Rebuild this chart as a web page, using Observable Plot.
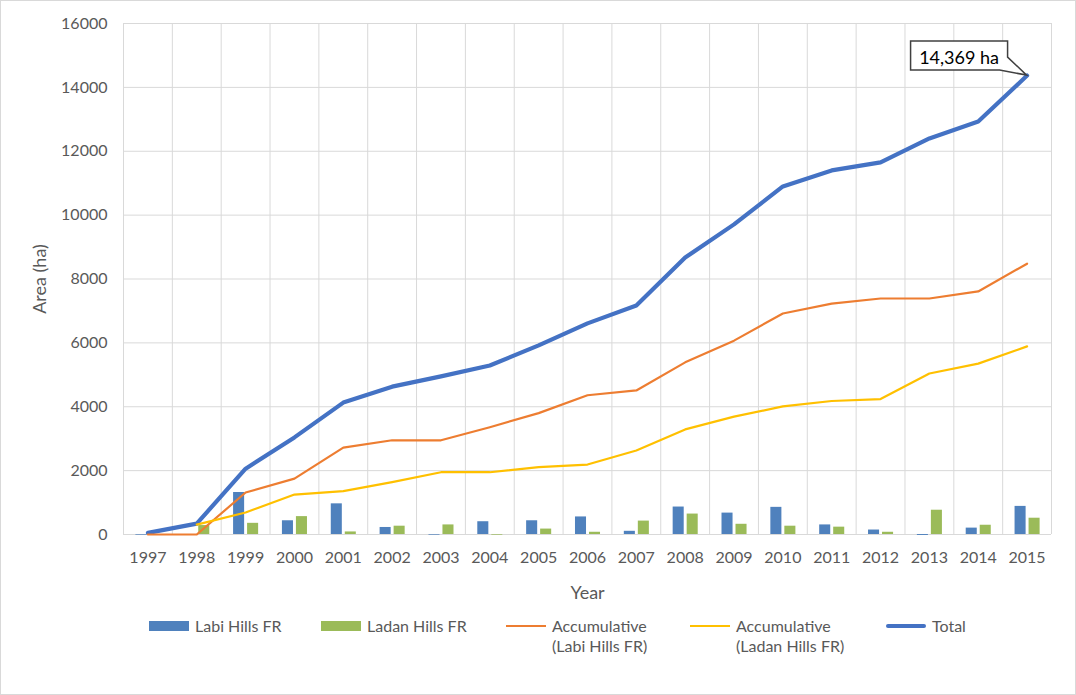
<!DOCTYPE html>
<html>
<head>
<meta charset="utf-8">
<script src="https://cdn.jsdelivr.net/npm/d3@7"></script>
<script src="https://cdn.jsdelivr.net/npm/@observablehq/plot@0.6"></script>
<style>
  html, body { margin: 0; padding: 0; background: #fff; }
  #wrap { position: relative; width: 1076px; height: 695px; overflow: hidden; background: #fff; font-family: Lato, sans-serif; }
  #frame { position: absolute; left: 0; top: 0; width: 1076px; height: 695px; box-sizing: border-box; border: 1px solid #d9d9d9; pointer-events: none; }
  #chart { position: absolute; left: 0; top: 0; }
  #chart g[aria-label="y-axis label"] text, #chart g[aria-label="x-axis label"] text { font-size: 18px; }
  .leg { position: absolute; font-size: 16px; color: #595959; line-height: 20px; white-space: nowrap; }
  .sw { position: absolute; }
</style>
</head>
<body>
<div id="wrap">
  <div id="chart"></div>
  <div id="legend"></div>
  <div id="frame"></div>
</div>
<script>
// ---- data ----
const years = [1997, 1998, 1999, 2000, 2001, 2002, 2003, 2004, 2005, 2006, 2007, 2008, 2009, 2010, 2011, 2012, 2013, 2014, 2015];
const labiAnnual  = [-20, 0, 1315, 430, 960, 220, -20, 400, 430, 550, 100, 860, 670, 850, 300, 140, -30, 200, 880];
const ladanAnnual = [0, 280, 350, 560, 80, 260, 300, -20, 170, 70, 420, 640, 320, 260, 230, 70, 760, 290, 510];
const accLabi  = [0, 0, 1315, 1750, 2720, 2950, 2950, 3360, 3800, 4360, 4510, 5390, 6070, 6920, 7230, 7390, 7390, 7610, 8480];
const accLadan = [null, 310, 690, 1250, 1360, 1640, 1950, 1950, 2110, 2190, 2630, 3290, 3690, 4010, 4180, 4240, 5040, 5350, 5890];
const total    = [50, 340, 2060, 3040, 4130, 4630, 4950, 5290, 5920, 6610, 7170, 8670, 9710, 10900, 11400, 11650, 12400, 12930, 14369];
const yTicks = [0, 2000, 4000, 6000, 8000, 10000, 12000, 14000, 16000];
const seriesNames = ["Labi Hills FR", "Ladan Hills FR", "Accumulative\n(Labi Hills FR)", "Accumulative\n(Ladan Hills FR)", "Total"];
const colors = ["#4F81BD", "#9BBB59", "#ED7D31", "#FFC000", "#4472C4"];

const rows = years.map((year, i) => ({
  year, labi: labiAnnual[i], ladan: ladanAnnual[i],
  accLabi: accLabi[i], accLadan: accLadan[i], total: total[i]
}));
const boundaries = years.map(y => y - 0.5).concat([years[years.length - 1] + 0.5]);

const W = 1076, H = 600;
const mL = 123, mR = 25, mT = 23, mB = 66;

const chart = Plot.plot({
  width: W, height: H,
  marginLeft: mL, marginRight: mR, marginTop: mT, marginBottom: mB,
  style: { fontFamily: "Lato, sans-serif", fontSize: "16px", color: "#595959", background: "transparent", overflow: "visible" },
  x: { type: "linear", domain: [years[0] - 0.5, years[years.length - 1] + 0.5] },
  y: { domain: [0, 16000] },
  marks: [
    Plot.ruleY(yTicks, { stroke: "#d9d9d9", strokeWidth: 1 }),
    Plot.ruleX(boundaries, { stroke: "#d9d9d9", strokeWidth: 1 }),
    Plot.rectY(rows, { x1: d => d.year - 0.5, x2: d => d.year + 0.5, y: "labi", fill: colors[0], insetLeft: 12.4, insetRight: 25.4 }),
    Plot.rectY(rows, { x1: d => d.year - 0.5, x2: d => d.year + 0.5, y: "ladan", fill: colors[1], insetLeft: 26.4, insetRight: 11.4 }),
    Plot.lineY(rows, { x: "year", y: "total", stroke: colors[4], strokeWidth: 4.2, strokeLinejoin: "round", strokeLinecap: "round" }),
    Plot.lineY(rows, { x: "year", y: "accLabi", stroke: colors[2], strokeWidth: 2.2, strokeLinejoin: "round" }),
    Plot.lineY(rows, { x: "year", y: "accLadan", stroke: colors[3], strokeWidth: 2.2, strokeLinejoin: "round" }),
    Plot.axisY({ ticks: yTicks, tickSize: 0, tickPadding: 16, tickFormat: d => String(d), label: "Area (ha)", labelAnchor: "center", labelArrow: "none", labelOffset: 90 }),
    Plot.axisX({ ticks: years, tickSize: 0, tickPadding: 17, tickFormat: d => String(d), label: "Year", labelAnchor: "center", labelArrow: "none", labelOffset: 64 })
  ]
});
document.getElementById("chart").appendChild(chart);

// ---- callout on the last total value ----
(function () {
  const last = rows[rows.length - 1];
  let sx, sy;
  try { sx = chart.scale("x").apply(last.year); sy = chart.scale("y").apply(last.total); } catch (e) {}
  if (!isFinite(sx) || !isFinite(sy)) {
    sx = d3.scaleLinear([years[0] - 0.5, years[years.length - 1] + 0.5], [mL, W - mR])(last.year);
    sy = d3.scaleLinear([0, 16000], [H - mB, mT])(last.total);
  }
  const svg = d3.select(chart);
  const g = svg.append("g").attr("aria-label", "callout");
  const x0 = sx - 116, x1 = sx - 19, y0 = sy - 34, y1 = sy - 5;
  g.append("path")
    .attr("d", `M${x0},${y0}H${x1}V${y0 + 16}L${sx},${sy}L${x1 - 8},${y1}H${x0}Z`)
    .attr("fill", "#fff").attr("stroke", "#404040").attr("stroke-width", 1.5);
  g.append("text")
    .attr("x", (x0 + x1) / 2).attr("y", (y0 + y1) / 2 + 1)
    .attr("text-anchor", "middle").attr("dominant-baseline", "central")
    .attr("font-family", "Lato, sans-serif").attr("font-size", 18).attr("fill", "#000")
    .text(d3.format(",")(last.total) + " ha");
})();

// ---- legend below the plot ----
(function () {
  const legend = document.getElementById("legend");
  const items = [
    { left: 149, kind: "bar" }, { left: 321, kind: "bar" },
    { left: 506, kind: "line", w: 2.2 }, { left: 690, kind: "line", w: 2.2 }, { left: 886, kind: "line", w: 4.2 }
  ];
  items.forEach((it, i) => {
    const sw = document.createElement("div");
    sw.className = "sw";
    sw.style.left = it.left + "px";
    sw.style.width = "40px";
    sw.style.background = colors[i];
    if (it.kind === "bar") { sw.style.top = "621px"; sw.style.height = "10px"; }
    else { sw.style.height = it.w + "px"; sw.style.top = (626 - it.w / 2) + "px"; sw.style.borderRadius = it.w > 3 ? "2px" : "0"; }
    legend.appendChild(sw);
    const lab = document.createElement("div");
    lab.className = "leg";
    lab.style.left = (it.left + 46) + "px";
    lab.style.top = "616px";
    lab.innerHTML = seriesNames[i].split("\n").map(s => s.replace(/&/g, "&amp;")).join("<br>");
    legend.appendChild(lab);
  });
})();
</script>
</body>
</html>
